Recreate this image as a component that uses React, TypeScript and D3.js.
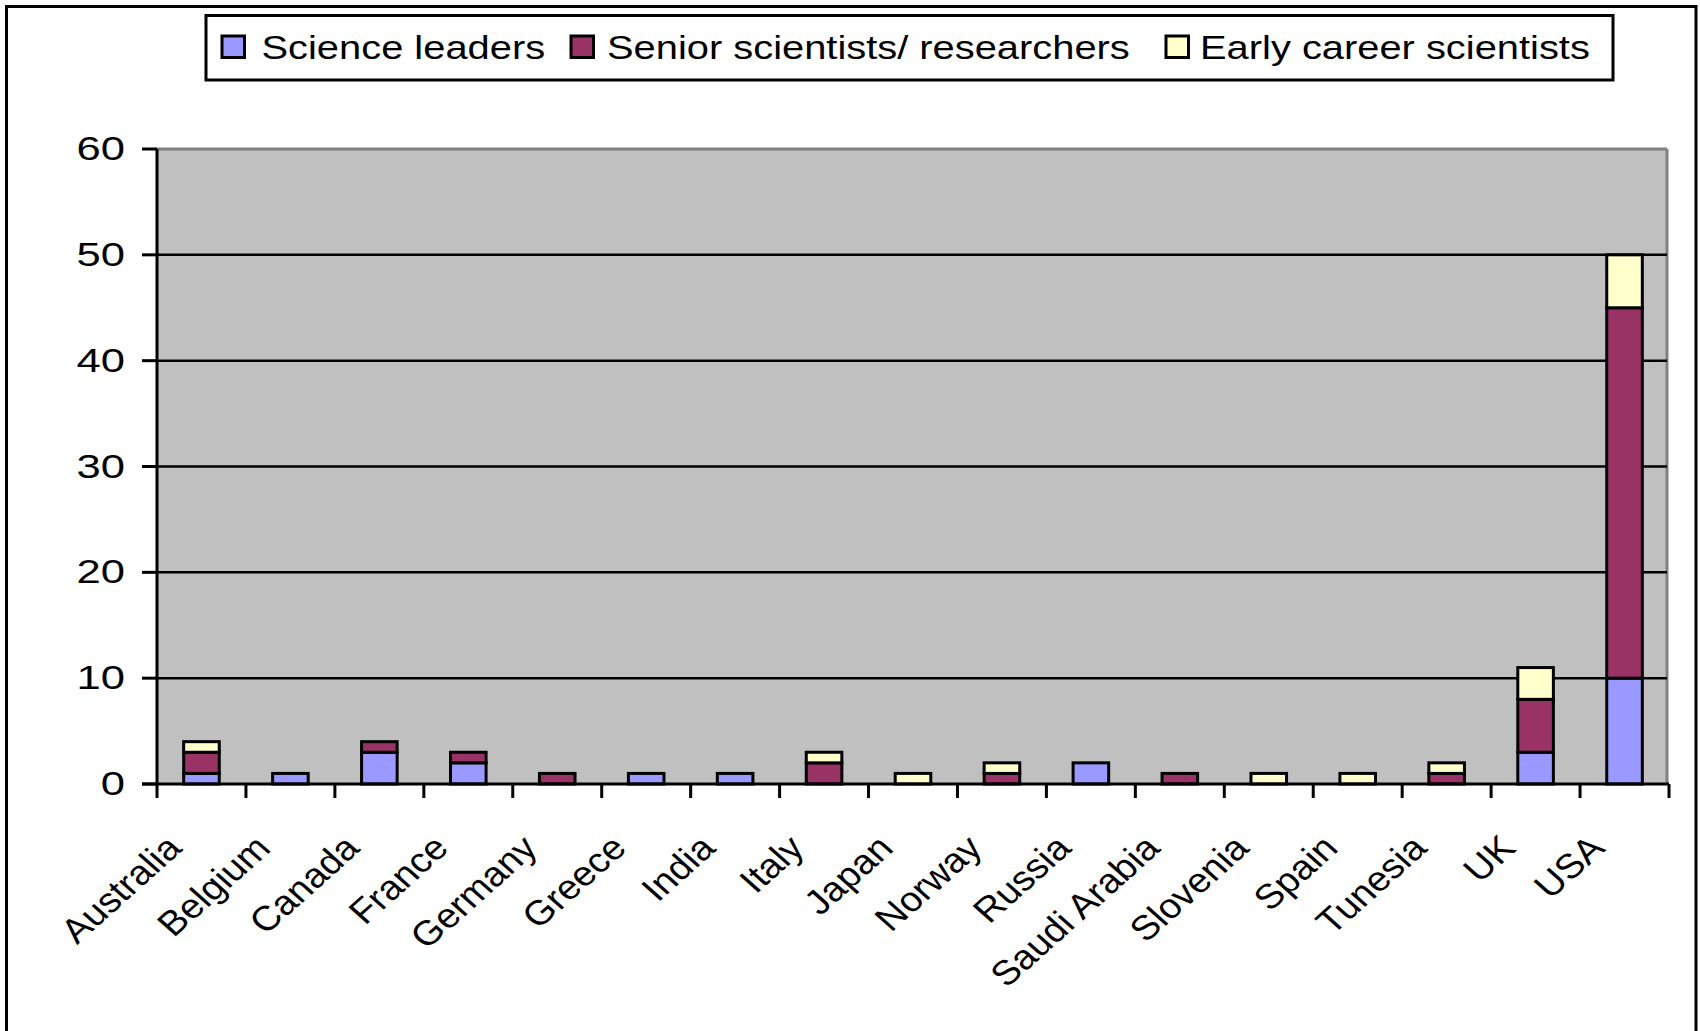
import React from "react";
import * as d3 from "d3";

const countries = ["Australia", "Belgium", "Canada", "France", "Germany", "Greece", "India", "Italy", "Japan", "Norway", "Russia", "Saudi Arabia", "Slovenia", "Spain", "Tunesia", "UK", "USA"];
const scienceLeaders = [1, 1, 3, 2, 0, 1, 1, 0, 0, 0, 2, 0, 0, 0, 0, 3, 10];
const seniorScientists = [2, 0, 1, 1, 1, 0, 0, 2, 0, 1, 0, 1, 0, 0, 1, 5, 35];
const earlyCareer = [1, 0, 0, 0, 0, 0, 0, 1, 1, 1, 0, 0, 1, 1, 1, 3, 5];
const seriesNames = ["Science leaders", "Senior scientists/ researchers", "Early career scientists"];
const seriesColors = ["#9999FF", "#993366", "#FFFFCC"];
const yTicks = [0, 10, 20, 30, 40, 50, 60];

const W = 1700;
const H = 1031;
const plotL = 157;
const plotR = 1669;
const plotT = 149;
const plotB = 784;
const FONT = "'Liberation Sans', Arial, sans-serif";

export default function App() {
  const x = d3.scaleBand<string>().domain(countries).range([plotL, plotR]).paddingInner(0.6).paddingOuter(0.3);
  const y = d3.scaleLinear().domain([0, 60]).range([plotB, plotT]);
  const step = x.step();

  const rows = countries.map((c, i) => ({ c, s0: scienceLeaders[i], s1: seniorScientists[i], s2: earlyCareer[i] }));
  const stack = d3.stack<any>().keys(["s0", "s1", "s2"]);
  const layers = stack(rows);

  const boundaries = d3.range(countries.length + 1).map((i) => plotL + i * step);

  const legendItems = [
    { sq: 222, tx: 261.5 },
    { sq: 571, tx: 607 },
    { sq: 1166, tx: 1200 },
  ];

  return (
    <svg width={W} height={H} style={{ position: "absolute", left: 0, top: 0, background: "#fff" }} fontFamily={FONT}>
      {/* outer frame */}
      <rect x={6.5} y={6.5} width={1689.5} height={1040} fill="#fff" stroke="#000" strokeWidth={3} />

      {/* legend */}
      <rect x={206} y={15.5} width={1407} height={64.5} fill="#fff" stroke="#000" strokeWidth={3} />
      {seriesNames.map((n, i) => (
        <g key={n}>
          <rect x={legendItems[i].sq} y={36} width={22.5} height={21.5} fill={seriesColors[i]} stroke="#000" strokeWidth={3} />
          <text transform={`translate(${legendItems[i].tx},58.5) scale(1.19,1)`} fontSize={33.5} fill="#000">
            {n}
          </text>
        </g>
      ))}

      {/* plot area */}
      <rect x={plotL} y={plotT} width={plotR - 2 - plotL} height={plotB - plotT} fill="#C0C0C0" />
      <line x1={plotL} x2={plotR - 2} y1={plotT} y2={plotT} stroke="#808080" strokeWidth={3} />
      <line x1={plotR - 2} x2={plotR - 2} y1={plotT} y2={plotB} stroke="#808080" strokeWidth={3} />

      {/* gridlines */}
      {yTicks.filter((t) => t > 0 && t < 60).map((t) => (
        <line key={t} x1={plotL} x2={plotR - 2} y1={y(t)} y2={y(t)} stroke="#000" strokeWidth={2.5} />
      ))}

      {/* bars */}
      {layers.map((layer, li) => (
        <g key={li}>
          {layer.map((d, i) =>
            d[1] - d[0] > 0 ? (
              <rect
                key={i}
                x={x(countries[i])!}
                y={y(d[1])}
                width={x.bandwidth()}
                height={y(d[0]) - y(d[1])}
                fill={seriesColors[li]}
                stroke="#000"
                strokeWidth={3}
              />
            ) : null
          )}
        </g>
      ))}

      {/* y axis */}
      <line x1={plotL} x2={plotL} y1={plotT} y2={plotB} stroke="#000" strokeWidth={3} />
      {yTicks.map((t) => (
        <g key={t}>
          <line x1={142} x2={plotL} y1={y(t)} y2={y(t)} stroke="#000" strokeWidth={3} />
          <text transform={`translate(125,${y(t) + 11}) scale(1.3,1)`} textAnchor="end" fontSize={33.5} fill="#000">
            {t}
          </text>
        </g>
      ))}

      {/* x axis */}
      <line x1={142} x2={plotR} y1={plotB} y2={plotB} stroke="#000" strokeWidth={3} />
      {boundaries.map((b, i) => (
        <line key={i} x1={b} x2={b} y1={plotB} y2={plotB + 14} stroke="#000" strokeWidth={3} />
      ))}
      {countries.map((c) => (
        <text
          key={c}
          transform={`translate(${x(c)! + x.bandwidth() / 2 - 18},850) scale(1.12,1) rotate(-45)`}
          textAnchor="end"
          fontSize={34.6}
          fill="#000"
        >
          {c}
        </text>
      ))}
    </svg>
  );
}
